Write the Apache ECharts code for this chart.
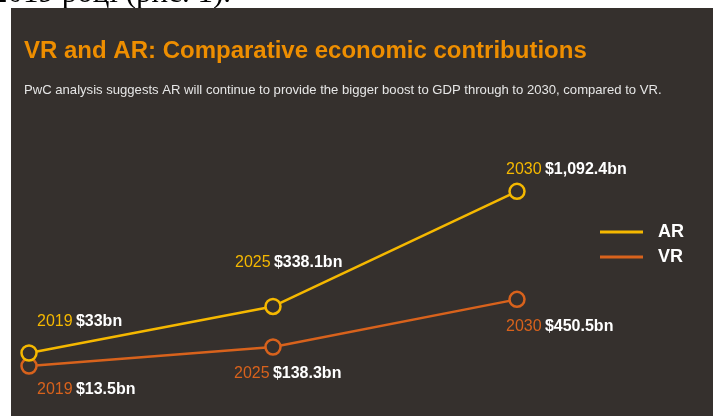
<!DOCTYPE html>
<html>
<head>
<meta charset="utf-8">
<script src="https://cdn.jsdelivr.net/npm/echarts@6/dist/echarts.min.js"></script>
<style>
html,body{margin:0;padding:0;background:#fff;}
#c{width:713px;height:416px;}
</style>
</head>
<body>
<div id="c"></div>
<script>
const years = ['2019', '2025', '2030'];
const arValues = [33, 338.1, 1092.4];
const vrValues = [13.5, 138.3, 450.5];
const arLabels = ['$33bn', '$338.1bn', '$1,092.4bn'];
const vrLabels = ['$13.5bn', '$138.3bn', '$450.5bn'];
const seriesNames = ['AR', 'VR'];
const titleText = 'VR and AR: Comparative economic contributions';
const subtitleText = 'PwC analysis suggests AR will continue to provide the bigger boost to GDP through to 2030, compared to VR.';

const AR_COLOR = '#F5B800';
const VR_COLOR = '#D8621C';
const BG = '#35302D';
const FONT = 'Liberation Sans, Arial, sans-serif';

const arOffsets = [[8, -31], [-38, -44], [-11, -22]];
const vrOffsets = [[8, 24], [-39, 27], [-11, 27]];

function makeData(values, labels, offsets, color) {
  return values.map((v, i) => ({
    value: v,
    label: {
      show: true,
      position: 'inside',
      align: 'left',
      verticalAlign: 'middle',
      offset: offsets[i],
      formatter: '{y|' + years[i] + '} {v|' + labels[i] + '}',
      rich: {
        y: { color: color, fontSize: 16, fontFamily: FONT },
        v: { color: '#ffffff', fontSize: 16, fontWeight: 'bold', fontFamily: FONT }
      }
    }
  }));
}

const chart = echarts.init(document.getElementById('c'), null, { renderer: 'canvas' });
chart.setOption({
  animation: false,
  backgroundColor: '#ffffff',
  graphic: [
    { type: 'rect', z: -10, shape: { x: 11, y: 8, width: 702, height: 408 }, style: { fill: BG } },
    { type: 'text', z: -20, left: -8, top: -22, style: { text: '2019 році (рис. 1).', fill: '#000', font: '31px "Liberation Serif", serif' } }
  ],
  title: [
    { text: titleText, left: 24, top: 39, padding: 0, textStyle: { color: '#EE8E00', fontSize: 24, fontWeight: 'bold', fontFamily: FONT } },
    { text: subtitleText, left: 24, top: 84, padding: 0, textStyle: { color: '#E6E6E6', fontSize: 13.1, fontWeight: 'normal', fontFamily: FONT } }
  ],
  legend: {
    orient: 'vertical',
    left: 595,
    top: 217,
    itemWidth: 43,
    itemHeight: 3,
    itemGap: 5,
    icon: 'rect',
    data: [
      { name: seriesNames[0], itemStyle: { color: AR_COLOR, borderWidth: 0 } },
      { name: seriesNames[1], itemStyle: { color: VR_COLOR, borderWidth: 0 } }
    ],
    textStyle: { color: '#ffffff', fontSize: 18, fontWeight: 'bold', fontFamily: FONT, padding: [0, 0, 0, 10], lineHeight: 20 }
  },
  grid: { left: 29, right: 196, top: 185, height: 183.1 },
  xAxis: { type: 'category', data: years, boundaryGap: false, show: false },
  yAxis: [
    { type: 'value', min: -66, max: 1134, show: false, splitLine: { show: false } },
    { type: 'value', min: 0, max: 1200, show: false, splitLine: { show: false } }
  ],
  series: [
    {
      name: seriesNames[0], type: 'line', yAxisIndex: 0, data: makeData(arValues, arLabels, arOffsets, AR_COLOR),
      symbol: 'circle', symbolSize: 15, showAllSymbol: true,
      lineStyle: { color: AR_COLOR, width: 2.5 },
      itemStyle: { color: BG, borderColor: AR_COLOR, borderWidth: 2.5 },
      z: 3
    },
    {
      name: seriesNames[1], type: 'line', yAxisIndex: 1, data: makeData(vrValues, vrLabels, vrOffsets, VR_COLOR),
      symbol: 'circle', symbolSize: 15, showAllSymbol: true,
      lineStyle: { color: VR_COLOR, width: 2.5 },
      itemStyle: { color: BG, borderColor: VR_COLOR, borderWidth: 2.5 },
      z: 2
    }
  ]
});
</script>
</body>
</html>
